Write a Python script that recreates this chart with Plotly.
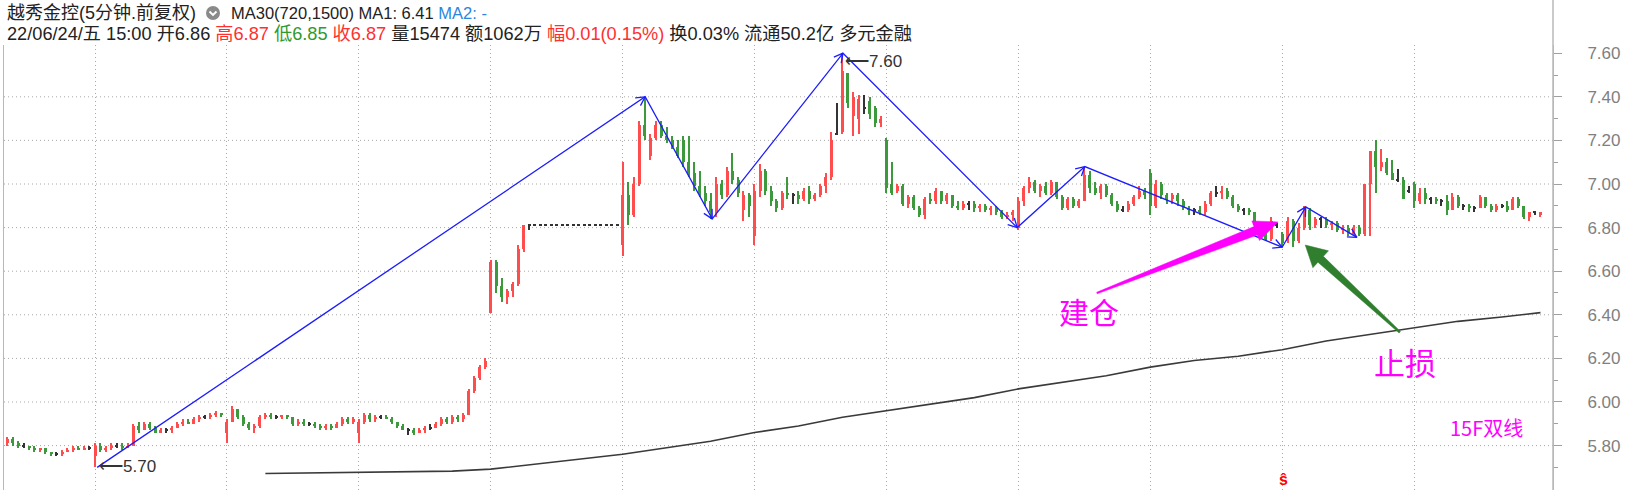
import math
import plotly.graph_objects as go

# ---------------- data (5-minute candles, aggregated) ----------------
OPEN = [
    5.81, 5.83, 5.81, 5.80, 5.80, 5.79, 5.78, 5.79, 5.77, 5.76, 5.76, 5.77, 5.78, 5.79, 5.78, 5.79,
    5.75, 5.80, 5.78, 5.79, 5.80, 5.80, 5.79, 5.80, 5.89, 5.87, 5.90, 5.88, 5.86, 5.87, 5.87, 5.88, 5.90, 5.91, 5.90, 5.92, 5.93, 5.93, 5.94, 5.95,
    5.86, 5.91, 5.97, 5.93, 5.90, 5.88, 5.89, 5.93, 5.94, 5.93, 5.93, 5.94, 5.93, 5.90, 5.91, 5.90, 5.90, 5.89, 5.88, 5.89, 5.88, 5.90, 5.92, 5.91,
    5.86, 5.91, 5.94, 5.92, 5.93, 5.93, 5.92, 5.91, 5.89, 5.87, 5.87, 5.86, 5.87, 5.88, 5.88, 5.90, 5.92, 5.91, 5.93, 5.92, 5.94, 6.05, 6.11, 6.16,
    6.41, 6.64, 6.53, 6.48, 6.51, 6.54, 6.70, 6.81, 6.81, 6.81, 6.81, 6.81, 6.81, 6.81, 6.81, 6.81, 6.81, 6.81, 6.81, 6.81, 6.81, 6.81, 6.81, 6.81,
    6.72, 6.95, 6.86, 7.00, 7.27, 7.13, 7.21, 7.27, 7.22, 7.20, 7.17, 7.20, 7.10, 7.05, 6.99, 6.96, 6.92, 6.87, 7.00, 6.95, 7.06, 7.02, 6.88, 6.95,
    6.76, 6.97, 7.06, 6.97, 6.92, 6.89, 6.96, 6.95, 6.95, 6.93, 6.97, 6.93, 6.95, 6.99, 7.03, 7.23, 7.24, 7.51, 7.31, 7.30, 7.35, 7.38, 7.35, 7.28,
    7.20, 7.00, 6.97, 6.99, 6.91, 6.94, 6.89, 6.86, 6.93, 6.92, 6.97, 6.92, 6.95, 6.90, 6.89, 6.91, 6.91, 6.89, 6.90, 6.88, 6.89, 6.87, 6.85, 6.86,
    6.80, 6.92, 6.98, 7.01, 6.97, 6.99, 6.96, 7.01, 6.94, 6.89, 6.93, 6.90, 6.92, 7.04, 6.98, 6.96, 6.99, 6.95, 6.91, 6.88, 6.88, 6.91, 6.94, 6.97,
    7.05, 6.90, 7.00, 6.95, 6.93, 6.95, 6.92, 6.89, 6.88, 6.88, 6.87, 6.91, 6.96, 6.96, 6.97, 6.94, 6.90, 6.88, 6.88, 6.87, 6.81, 6.79, 6.75, 6.81,
    6.77, 6.74, 6.83, 6.74, 6.80, 6.88, 6.81, 6.84, 6.84, 6.81, 6.82, 6.79, 6.80, 6.77, 6.80, 6.77, 7.00, 7.15, 7.08, 7.10, 7.05, 7.02, 7.02, 6.97,
    7.00, 6.92, 6.96, 6.93, 6.93, 6.92, 6.92, 6.88, 6.94, 6.90, 6.90, 6.89, 6.89, 6.94, 6.90, 6.88, 6.90, 6.90, 6.88, 6.93, 6.90, 6.85, 6.87, 6.86,
]
HIGH = [
    5.84, 5.84, 5.82, 5.81, 5.80, 5.80, 5.79, 5.79, 5.77, 5.77, 5.78, 5.79, 5.80, 5.80, 5.80, 5.80,
    5.81, 5.81, 5.80, 5.81, 5.81, 5.81, 5.81, 5.90, 5.91, 5.91, 5.91, 5.89, 5.88, 5.88, 5.89, 5.91, 5.92, 5.92, 5.93, 5.94, 5.94, 5.95, 5.96, 5.95,
    5.92, 5.98, 5.97, 5.94, 5.91, 5.90, 5.94, 5.95, 5.95, 5.94, 5.94, 5.94, 5.93, 5.92, 5.92, 5.91, 5.91, 5.90, 5.90, 5.90, 5.91, 5.93, 5.93, 5.93,
    5.92, 5.95, 5.95, 5.94, 5.94, 5.94, 5.93, 5.91, 5.90, 5.88, 5.88, 5.88, 5.89, 5.90, 5.91, 5.93, 5.93, 5.94, 5.94, 5.95, 6.06, 6.12, 6.17, 6.20,
    6.65, 6.65, 6.57, 6.52, 6.55, 6.72, 6.81, 6.81, 6.81, 6.81, 6.81, 6.81, 6.81, 6.81, 6.81, 6.81, 6.81, 6.81, 6.81, 6.81, 6.81, 6.81, 6.81, 6.81,
    7.10, 7.01, 7.03, 7.29, 7.40, 7.23, 7.29, 7.29, 7.26, 7.22, 7.20, 7.22, 7.22, 7.10, 7.06, 6.99, 6.96, 7.03, 7.02, 7.08, 7.14, 7.03, 6.97, 6.96,
    7.00, 7.09, 7.07, 6.99, 6.93, 6.97, 7.03, 6.96, 6.97, 6.98, 6.99, 6.96, 7.00, 7.05, 7.24, 7.37, 7.60, 7.51, 7.42, 7.41, 7.41, 7.40, 7.36, 7.31,
    7.21, 7.10, 7.00, 7.00, 6.95, 6.95, 6.90, 6.94, 6.96, 6.98, 6.97, 6.96, 6.95, 6.92, 6.92, 6.92, 6.92, 6.91, 6.91, 6.90, 6.90, 6.88, 6.87, 6.88,
    6.94, 6.99, 7.03, 7.02, 7.00, 7.01, 7.02, 7.01, 6.95, 6.94, 6.94, 6.93, 7.08, 7.06, 7.01, 7.00, 7.00, 6.96, 6.92, 6.90, 6.92, 6.95, 6.99, 6.98,
    7.07, 7.02, 7.01, 6.96, 6.96, 6.96, 6.93, 6.90, 6.89, 6.90, 6.92, 6.97, 6.99, 6.99, 6.98, 6.95, 6.91, 6.89, 6.89, 6.87, 6.82, 6.80, 6.85, 6.82,
    6.78, 6.85, 6.84, 6.82, 6.90, 6.89, 6.85, 6.85, 6.85, 6.83, 6.83, 6.81, 6.81, 6.81, 6.81, 6.81, 7.03, 7.20, 7.16, 7.12, 7.11, 7.07, 7.03, 6.99,
    7.01, 6.98, 6.98, 6.94, 6.94, 6.93, 6.95, 6.96, 6.95, 6.91, 6.91, 6.90, 6.95, 6.94, 6.91, 6.91, 6.91, 6.92, 6.94, 6.94, 6.90, 6.87, 6.87, 6.87,
]
LOW = [
    5.80, 5.80, 5.79, 5.79, 5.78, 5.77, 5.77, 5.76, 5.75, 5.75, 5.75, 5.77, 5.77, 5.78, 5.78, 5.78,
    5.70, 5.77, 5.77, 5.78, 5.79, 5.78, 5.79, 5.80, 5.86, 5.87, 5.87, 5.86, 5.86, 5.86, 5.86, 5.88, 5.89, 5.90, 5.90, 5.91, 5.92, 5.92, 5.93, 5.93,
    5.81, 5.91, 5.92, 5.89, 5.87, 5.86, 5.88, 5.92, 5.92, 5.92, 5.92, 5.92, 5.89, 5.89, 5.89, 5.89, 5.88, 5.87, 5.87, 5.87, 5.88, 5.89, 5.90, 5.90,
    5.81, 5.90, 5.91, 5.91, 5.92, 5.92, 5.90, 5.88, 5.87, 5.85, 5.85, 5.86, 5.86, 5.87, 5.88, 5.89, 5.90, 5.90, 5.91, 5.91, 5.94, 6.04, 6.10, 6.15,
    6.41, 6.50, 6.46, 6.45, 6.48, 6.53, 6.69, 6.79, 6.81, 6.81, 6.81, 6.81, 6.81, 6.81, 6.81, 6.81, 6.81, 6.81, 6.81, 6.81, 6.81, 6.81, 6.81, 6.81,
    6.67, 6.81, 6.85, 6.99, 7.20, 7.11, 7.20, 7.21, 7.19, 7.16, 7.12, 7.08, 7.03, 6.97, 6.94, 6.90, 6.84, 6.85, 6.93, 6.94, 7.00, 6.94, 6.83, 6.85,
    6.72, 6.94, 6.95, 6.90, 6.87, 6.88, 6.93, 6.91, 6.91, 6.92, 6.91, 6.92, 6.94, 6.96, 7.02, 7.23, 7.23, 7.35, 7.22, 7.23, 7.32, 7.30, 7.26, 7.26,
    6.96, 6.95, 6.96, 6.90, 6.89, 6.88, 6.85, 6.84, 6.91, 6.91, 6.91, 6.91, 6.89, 6.88, 6.88, 6.88, 6.87, 6.87, 6.87, 6.86, 6.86, 6.84, 6.84, 6.83,
    6.79, 6.90, 6.96, 6.96, 6.94, 6.95, 6.95, 6.93, 6.88, 6.88, 6.89, 6.89, 6.92, 6.96, 6.95, 6.93, 6.94, 6.90, 6.87, 6.87, 6.87, 6.90, 6.93, 6.93,
    6.86, 6.89, 6.93, 6.91, 6.91, 6.90, 6.88, 6.86, 6.86, 6.86, 6.86, 6.90, 6.94, 6.93, 6.93, 6.89, 6.87, 6.86, 6.86, 6.80, 6.78, 6.74, 6.74, 6.80,
    6.71, 6.73, 6.71, 6.73, 6.79, 6.79, 6.80, 6.80, 6.80, 6.79, 6.78, 6.77, 6.76, 6.76, 6.76, 6.76, 6.76, 6.96, 7.06, 7.04, 7.04, 7.01, 7.00, 6.96,
    6.89, 6.91, 6.91, 6.91, 6.91, 6.90, 6.86, 6.88, 6.89, 6.88, 6.87, 6.87, 6.89, 6.89, 6.87, 6.87, 6.89, 6.87, 6.88, 6.89, 6.84, 6.83, 6.86, 6.85,
]
CLOSE = [
    5.83, 5.81, 5.80, 5.80, 5.79, 5.78, 5.79, 5.77, 5.76, 5.76, 5.77, 5.78, 5.79, 5.78, 5.79, 5.79,
    5.80, 5.78, 5.79, 5.80, 5.80, 5.79, 5.80, 5.89, 5.87, 5.90, 5.88, 5.86, 5.87, 5.87, 5.88, 5.90, 5.91, 5.90, 5.92, 5.93, 5.93, 5.94, 5.95, 5.94,
    5.91, 5.97, 5.93, 5.90, 5.88, 5.89, 5.93, 5.94, 5.93, 5.93, 5.94, 5.93, 5.90, 5.91, 5.90, 5.90, 5.89, 5.88, 5.89, 5.88, 5.90, 5.92, 5.91, 5.92,
    5.91, 5.94, 5.92, 5.93, 5.93, 5.92, 5.91, 5.89, 5.87, 5.87, 5.86, 5.87, 5.88, 5.88, 5.90, 5.92, 5.91, 5.93, 5.92, 5.94, 6.05, 6.11, 6.16, 6.19,
    6.64, 6.53, 6.48, 6.51, 6.54, 6.70, 6.81, 6.81, 6.81, 6.81, 6.81, 6.81, 6.81, 6.81, 6.81, 6.81, 6.81, 6.81, 6.81, 6.81, 6.81, 6.81, 6.81, 6.81,
    6.95, 6.86, 7.00, 7.27, 7.22, 7.21, 7.27, 7.22, 7.20, 7.17, 7.13, 7.10, 7.05, 6.99, 6.96, 6.92, 6.87, 7.00, 6.95, 7.06, 7.02, 6.96, 6.95, 6.90,
    6.97, 7.06, 6.97, 6.92, 6.89, 6.96, 6.95, 6.95, 6.93, 6.97, 6.93, 6.95, 6.99, 7.03, 7.20, 7.23, 7.52, 7.37, 7.40, 7.39, 7.35, 7.32, 7.28, 7.30,
    6.98, 6.96, 6.99, 6.91, 6.94, 6.89, 6.86, 6.93, 6.92, 6.97, 6.92, 6.95, 6.90, 6.89, 6.91, 6.91, 6.89, 6.90, 6.88, 6.89, 6.87, 6.85, 6.86, 6.87,
    6.92, 6.98, 7.01, 6.97, 6.99, 6.96, 7.01, 6.94, 6.89, 6.93, 6.90, 6.92, 7.04, 6.98, 6.96, 6.99, 6.95, 6.91, 6.88, 6.88, 6.91, 6.94, 6.97, 6.95,
    6.90, 7.00, 6.95, 6.93, 6.95, 6.92, 6.89, 6.88, 6.88, 6.87, 6.91, 6.96, 6.96, 6.97, 6.94, 6.90, 6.88, 6.88, 6.87, 6.81, 6.79, 6.75, 6.83, 6.81,
    6.73, 6.83, 6.74, 6.80, 6.88, 6.81, 6.84, 6.84, 6.81, 6.82, 6.79, 6.80, 6.77, 6.80, 6.77, 7.00, 7.15, 7.08, 7.10, 7.05, 7.02, 7.02, 6.93, 6.97,
    6.92, 6.96, 6.93, 6.93, 6.92, 6.92, 6.88, 6.94, 6.90, 6.90, 6.89, 6.89, 6.94, 6.90, 6.88, 6.90, 6.90, 6.88, 6.93, 6.90, 6.85, 6.87, 6.87, 6.87,
]

# long moving average (MA30 of 720/1500), sampled at candle indices
MA_IDX = [47, 55, 63, 72, 81, 88, 96, 104, 112, 120, 128, 136, 144, 152, 160, 168, 176, 184,
          192, 200, 208, 216, 224, 232, 240, 248, 256, 264, 272, 279]
MA_VAL = [5.672, 5.675, 5.678, 5.680, 5.683, 5.692, 5.715, 5.735, 5.76, 5.79, 5.82, 5.86, 5.89,
          5.93, 5.96, 5.99, 6.02, 6.06, 6.09, 6.12, 6.16, 6.19, 6.21, 6.24, 6.28, 6.31, 6.34, 6.37,
          6.39, 6.41]

# first candle of each trading day (vertical dotted separators)
DAY_START = [16, 40, 64, 88, 112, 136, 160, 184, 208, 232, 256]

# price axis
Y_TICKS = [5.8, 6.0, 6.2, 6.4, 6.6, 6.8, 7.0, 7.2, 7.4, 7.6]
Y_MINOR = [5.7, 5.9, 6.1, 6.3, 6.5, 6.7, 6.9, 7.1, 7.3, 7.5]

# hand-drawn zig-zag wave line (candle index, price)
ZIG_IDX = [16.4, 116.1, 128.3, 152.1, 183.8, 196.1, 232.0, 236.3, 245.6]
ZIG_PRICE = [5.70, 7.40, 6.84, 7.60, 6.80, 7.08, 6.71, 6.895, 6.755]

# annotation arrows (candle index, price): start -> tip
BUY_ARROW = [(198.3, 6.50), (231.25, 6.826)]
STOP_ARROW = [(253.4, 6.32), (236.2, 6.72)]

# annotation labels (candle index, price)
BUY_LABEL = ("建仓", 196.9, 6.417)
STOP_LABEL = ("止损", 254.4, 6.188)
SYS_LABEL = ("15F双线", 269.1, 5.881)
SIGNAL_MARK = ("<b>ŝ</b>", 232.2, 5.645)

# ---------------- layout constants ----------------
W, H = 1626, 490
ML, MR, MT, MB = 4, 73, 45, 0
PW, PH = W - ML - MR, H - MT - MB
X_RANGE = [-0.557, 281.28]
Y_RANGE = [5.5963, 7.6376]
PX_X = PW / (X_RANGE[1] - X_RANGE[0])
PX_Y = PH / (Y_RANGE[1] - Y_RANGE[0])

RED, GREEN, BLACK = "#ff4c4c", "#3c9a3c", "#333333"
BLUE = "#1c1cff"
MAGENTA = "#ff00ff"
DKGREEN = "#2f7f2f"
LATIN = "Liberation Sans, Noto Sans CJK SC, sans-serif"
CJK = "Noto Sans CJK SC, sans-serif"

fig = go.Figure()

# ---------------- candles ----------------
N = len(OPEN)
XI = list(range(N))
cols = [RED if c > o else (GREEN if c < o else BLACK) for o, c in zip(OPEN, CLOSE)]
MIN_BODY = 1.0 / PX_Y
body_h, body_b = [], []
for o, c in zip(OPEN, CLOSE):
    h = abs(c - o)
    if h < MIN_BODY:
        body_b.append(min(o, c) - (MIN_BODY - h) / 2)
        body_h.append(MIN_BODY)
    else:
        body_b.append(min(o, c))
        body_h.append(h)

fig.add_trace(go.Bar(x=XI, y=[h - l for h, l in zip(HIGH, LOW)], base=LOW,
                     width=1.1 / PX_X, marker=dict(color=cols, line=dict(width=0)),
                     hoverinfo="skip"))
fig.add_trace(go.Bar(x=XI, y=body_h, base=body_b, width=3.0 / PX_X,
                     marker=dict(color=cols, line=dict(width=0)), hoverinfo="skip"))

# ---------------- moving average ----------------
fig.add_trace(go.Scatter(x=MA_IDX, y=MA_VAL, mode="lines",
                         line=dict(color="#3a3a3a", width=1.6), hoverinfo="skip"))

# ---------------- zig-zag with open arrow heads ----------------
fig.add_trace(go.Scatter(x=ZIG_IDX, y=ZIG_PRICE, mode="lines",
                         line=dict(color=BLUE, width=1.3), hoverinfo="skip"))


def arrow_head(x0, y0, x1, y1, length=10.0, ang=28.0):
    dx, dy = (x1 - x0) * PX_X, (y1 - y0) * PX_Y
    d = math.hypot(dx, dy)
    ux, uy = -dx / d, -dy / d
    pts = []
    for s in (1, -1):
        a = math.radians(ang) * s
        vx = ux * math.cos(a) - uy * math.sin(a)
        vy = ux * math.sin(a) + uy * math.cos(a)
        pts.append((x1 + vx * length / PX_X, y1 + vy * length / PX_Y))
    return [pts[0][0], x1, pts[1][0], None], [pts[0][1], y1, pts[1][1], None]


hx, hy = [], []
for k in range(1, len(ZIG_IDX)):
    ax, ay = arrow_head(ZIG_IDX[k - 1], ZIG_PRICE[k - 1], ZIG_IDX[k], ZIG_PRICE[k])
    hx += ax
    hy += ay
fig.add_trace(go.Scatter(x=hx, y=hy, mode="lines", line=dict(color=BLUE, width=1.3),
                         hoverinfo="skip"))


# ---------------- thick wedge arrows ----------------
def wedge(start, tip, w0, w1, head_len, head_w):
    sx, sy = start[0] * PX_X, start[1] * PX_Y
    tx, ty = tip[0] * PX_X, tip[1] * PX_Y
    d = math.hypot(tx - sx, ty - sy)
    ux, uy = (tx - sx) / d, (ty - sy) / d
    nx, ny = -uy, ux
    bx, by = tx - ux * head_len, ty - uy * head_len
    pts = [(sx + nx * w0 / 2, sy + ny * w0 / 2), (bx + nx * w1 / 2, by + ny * w1 / 2),
           (bx + nx * head_w / 2, by + ny * head_w / 2), (tx, ty),
           (bx - nx * head_w / 2, by - ny * head_w / 2), (bx - nx * w1 / 2, by - ny * w1 / 2),
           (sx - nx * w0 / 2, sy - ny * w0 / 2)]
    return [p[0] / PX_X for p in pts] + [pts[0][0] / PX_X], [p[1] / PX_Y for p in pts] + [pts[0][1] / PX_Y]


for arr, col, geo in ((BUY_ARROW, MAGENTA, (1.5, 9, 24, 21)), (STOP_ARROW, DKGREEN, (2, 8, 21, 23))):
    wx, wy = wedge(arr[0], arr[1], *geo)
    fig.add_trace(go.Scatter(x=wx, y=wy, mode="lines", fill="toself", fillcolor=col,
                             line=dict(color=col, width=0.5), hoverinfo="skip"))

# ---------------- grid / frame shapes ----------------
shapes = []
for t in Y_TICKS:
    if t < 7.5:
        shapes.append(dict(type="line", xref="paper", yref="y", x0=0, x1=1, y0=t, y1=t,
                           line=dict(color="#a8a8a8", width=1, dash="1px,3px"), layer="below"))
shapes.append(dict(type="line", xref="paper", yref="paper", x0=1, x1=1, y0=0, y1=1 + MT / PH,
                   line=dict(color="#b8b8b8", width=1.5)))


def ppx(px):
    return (px - ML) / PW


def ppy(py):
    return (H - MB - py) / PH


# header icon (grey circle with chevron)
icx, icy, r = 213, 13, 7
shapes.append(dict(type="circle", xref="paper", yref="paper", x0=ppx(icx - r), x1=ppx(icx + r),
                   y0=ppy(icy + r), y1=ppy(icy - r), fillcolor="#8a8a8a", line=dict(width=0)))
shapes.append(dict(type="path", xref="paper", yref="paper",
                   path=f"M {ppx(icx-3.5)} {ppy(icy-1.5)} L {ppx(icx)} {ppy(icy+2)} L {ppx(icx+3.5)} {ppy(icy-1.5)}",
                   line=dict(color="white", width=1.8)))

# ---------------- texts ----------------
anns = []
hdr1 = "越秀金控(5分钟.前复权)"
hdr1b = "MA30(720,1500) MA1: 6.41 <span style='color:#2a86e0'>MA2: -</span>"
hdr2 = ("22/06/24/五 15:00 开6.86 <span style='color:#ff3030'>高6.87</span> "
        "<span style='color:#2e9a2e'>低6.85</span> <span style='color:#ff3030'>收6.87</span> "
        "量15474 额1062万 <span style='color:#ff3030'>幅0.01(0.15%)</span> 换0.03% 流通50.2亿 多元金融")
for txt, px, py, sz in ((hdr1, 5, 13, 18), (hdr1b, 229, 13, 16.5), (hdr2, 5, 34, 18.2)):
    anns.append(dict(text=txt, xref="paper", yref="paper", x=ppx(px), y=ppy(py),
                     xanchor="left", yanchor="middle", showarrow=False,
                     font=dict(family=LATIN, size=sz, color="#222222")))

# price labels at the wave extremes
anns.append(dict(text="⟵5.70", x=ZIG_IDX[0], y=ZIG_PRICE[0], xref="x", yref="y", xanchor="left",
                 yanchor="middle", xshift=0, yshift=1, showarrow=False,
                 font=dict(family=LATIN, size=17, color="#333333")))
anns.append(dict(text="⟵7.60", x=ZIG_IDX[3], y=ZIG_PRICE[3], xref="x", yref="y", xanchor="left",
                 yanchor="middle", xshift=0, yshift=-8, showarrow=False,
                 font=dict(family=LATIN, size=17, color="#333333")))

for (txt, xi, yp), size, col, fam in ((BUY_LABEL, 30, MAGENTA, CJK), (STOP_LABEL, 31, MAGENTA, CJK),
                                      (SYS_LABEL, 20, MAGENTA, CJK),
                                      (SIGNAL_MARK, 16, "#ff0000", LATIN)):
    anns.append(dict(text=txt, x=xi, y=yp, xref="x", yref="y", xanchor="center", yanchor="middle",
                     showarrow=False, font=dict(family=fam, size=size, color=col)))

fig.update_layout(
    width=W, height=H, margin=dict(l=ML, r=MR, t=MT, b=MB, pad=0),
    paper_bgcolor="white", plot_bgcolor="white", showlegend=False,
    barmode="overlay", bargap=0, shapes=shapes, annotations=anns,
    xaxis=dict(range=X_RANGE, tickvals=DAY_START, showticklabels=False, ticks="",
               showgrid=True, gridcolor="#a8a8a8", gridwidth=1, griddash="1px,3px",
               zeroline=False, showline=False, fixedrange=True),
    yaxis=dict(range=Y_RANGE, side="right", tickvals=Y_TICKS, tickformat=".2f",
               ticks="outside", ticklen=8, tickwidth=1, tickcolor="#a0a0a0",
               tickfont=dict(family=LATIN, size=17, color="#808080"), ticklabelstandoff=22,
               showgrid=False, zeroline=False, showline=True, mirror=True,
               linecolor="#b8b8b8", linewidth=1,
               minor=dict(tickvals=Y_MINOR, ticks="outside", ticklen=4, tickcolor="#a0a0a0",
                          showgrid=False),
               fixedrange=True),
)

fig.write_html("out.html", config={"displayModeBar": False},
               post_script="document.body.style.margin='0';document.body.style.overflow='hidden';")
